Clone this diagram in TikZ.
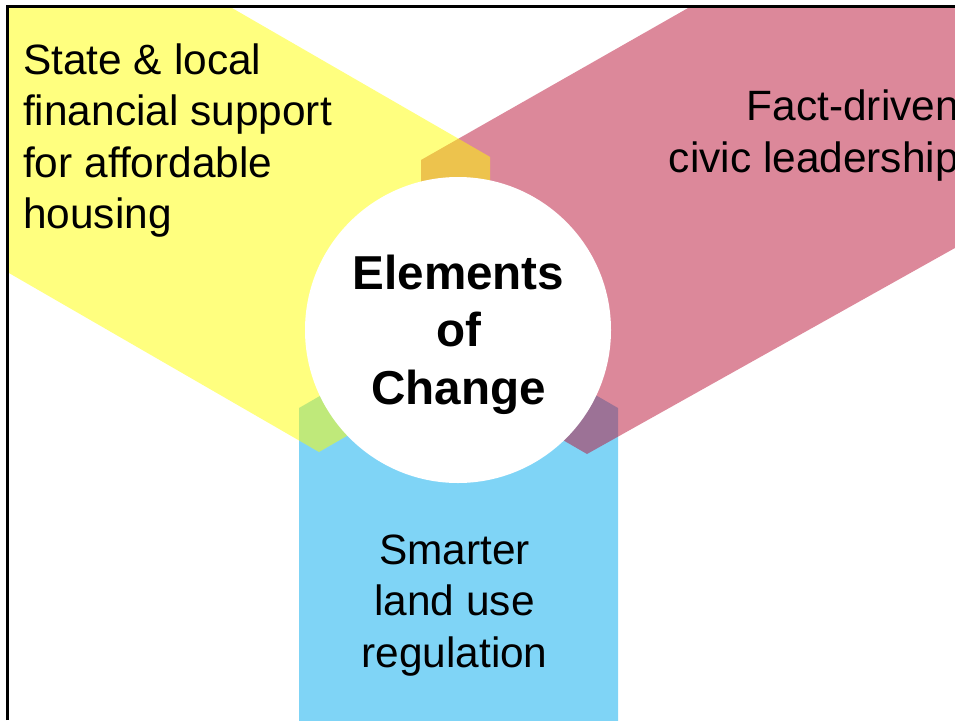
\documentclass[tikz,border=0pt]{standalone}
\usepackage{fontspec}
\setmainfont{Liberation Sans}
\definecolor{armyellow}{RGB}{255,255,0}
\definecolor{armred}{RGB}{185,17,54}
\definecolor{armblue}{RGB}{0,170,238}
\begin{document}
\begin{tikzpicture}[x=1pt,y=-1pt,
  arm/.style={fill opacity=0.5},
  armtext/.style={inner sep=0pt, text=black, font=\fontsize{42.4}{51.5}\selectfont},
  hubtext/.style={inner sep=0pt, align=center, text=black, font=\bfseries\fontsize{47.6}{57.5}\selectfont},
  frameline/.style={line width=3pt, line join=miter}]
\useasboundingbox (0,0) rectangle (955,720);
% frame corners
\coordinate (frameTL) at (7.3,6.5);
\coordinate (frameTR) at (955,6.5);
\coordinate (frameBL) at (7.3,720);
\begin{scope}
  \clip (frameTL) rectangle (955,720);
  % lower arm, pointing up into the hub
  \fill[armblue, arm] (299,760) -- (299,408) -- (458.5,316) -- (618,408) -- (618,760) -- cycle;
  % upper right arm
  \fill[armred, arm] (421,160) -- (1200,-283.3) -- (1200,110.8) -- (587,454) -- (421,358) -- cycle;
  % upper left arm
  \fill[armyellow, arm] (490,156.9) -- (490,353.3) -- (319,452) -- (-200,152.4) -- (-200,-241.3) -- cycle;
  % arm labels (anchored on the baseline of their last line)
  \node[armtext, align=left, anchor=base west] (support) at (23,228.5)
    {State \& local\\financial support\\for affordable\\housing};
  \node[armtext, align=right, anchor=base east] (leadership) at (959,172)
    {Fact-driven\\civic leadership};
  \node[armtext, align=center, anchor=base] (landuse) at (454.5,667)
    {Smarter\\land use\\regulation};
\end{scope}
% central hub
\node[circle, fill=white, minimum size=306pt, inner sep=0pt] (hub) at (458,330) {};
\node[hubtext, anchor=base] (hublabel) at (458.5,404) {Elements\\of\\Change};
% frame
\draw[frameline] (frameBL) -- (frameTL) -- (frameTR);
\end{tikzpicture}
\end{document}
